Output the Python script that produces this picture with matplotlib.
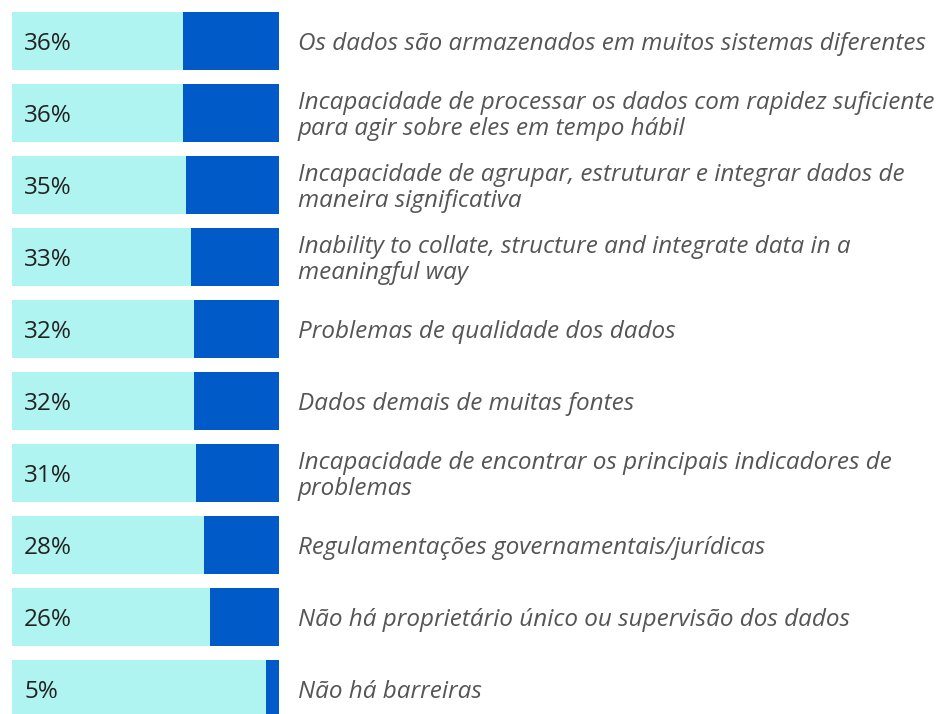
import matplotlib.pyplot as plt
import matplotlib.transforms as mtransforms

# categories (top to bottom) and percentages
labels = [
    'Os dados são armazenados em muitos sistemas diferentes',
    'Incapacidade de processar os dados com rapidez suficiente\npara agir sobre eles em tempo hábil',
    'Incapacidade de agrupar, estruturar e integrar dados de\nmaneira significativa',
    'Inability to collate, structure and integrate data in a\nmeaningful way',
    'Problemas de qualidade dos dados',
    'Dados demais de muitas fontes',
    'Incapacidade de encontrar os principais indicadores de\nproblemas',
    'Regulamentações governamentais/jurídicas',
    'Não há proprietário único ou supervisão dos dados',
    'Não há barreiras',
]
values = [36, 36, 35, 33, 32, 32, 31, 28, 26, 5]

light = '#AFF4F0'
dark = '#005BC8'

plt.rcParams['font.family'] = ['Open Sans', 'DejaVu Sans']

W, H = 939, 714
fig = plt.figure(figsize=(W / 100, H / 100), dpi=100)
ax = fig.add_axes([12 / W, 0, 267 / W, 1])

pos = list(range(len(values)))
rest = [100 - v for v in values]
ax.barh(pos, rest, height=0.81, color=light, linewidth=0)
ax.barh(pos, values, left=rest, height=0.81, color=dark, linewidth=0)

ax.set_xlim(0, 100)
ax.set_ylim((H - 41) / 72, -41 / 72)
ax.axis('off')

trans = mtransforms.blended_transform_factory(fig.transFigure, ax.transData)
offset = mtransforms.ScaledTranslation(0, -3 / 100, fig.dpi_scale_trans)
for i, (lab, v) in enumerate(zip(labels, values)):
    ax.text(24 / W, i, f'{v}%', transform=trans + offset, ha='left', va='center',
            fontsize=17.5, color='#222222')
    ax.text(298 / W, i, lab, transform=trans + offset, ha='left', va='center',
            fontsize=17.5, color='#555555', style='italic', linespacing=1.15)

fig.savefig('out.png', dpi=100)
